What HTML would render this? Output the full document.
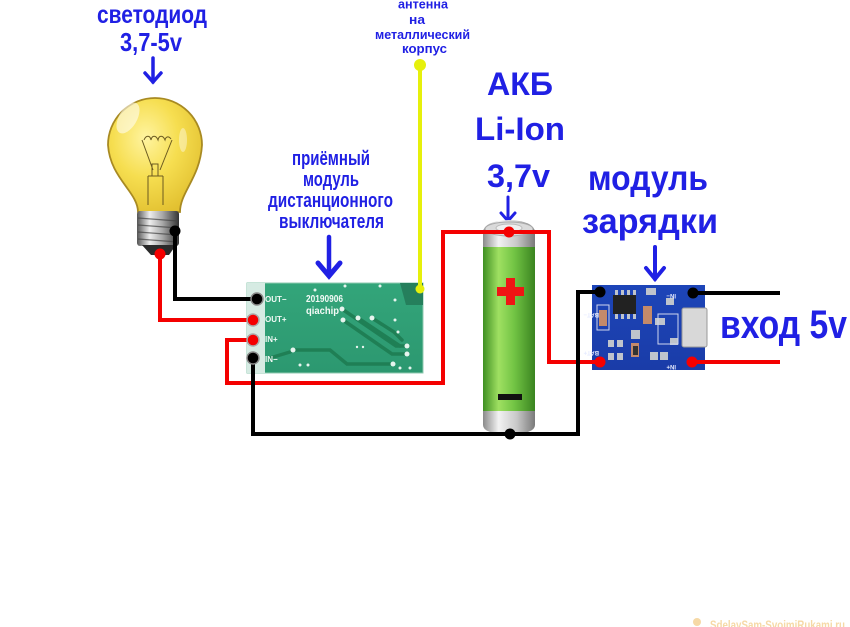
<!DOCTYPE html>
<html><head><meta charset="utf-8">
<style>
html,body{margin:0;padding:0;background:#fff;}
svg{display:block;}
text{font-family:"Liberation Sans","Noto Sans CJK SC",sans-serif;font-weight:bold;}
</style></head>
<body>
<svg width="850" height="627" viewBox="0 0 850 627" xmlns="http://www.w3.org/2000/svg">
<defs>
  <radialGradient id="glass" cx="0.4" cy="0.35" r="0.7">
    <stop offset="0" stop-color="#fff4a0"/>
    <stop offset="0.5" stop-color="#f6de50"/>
    <stop offset="1" stop-color="#e2c030"/>
  </radialGradient>
  <linearGradient id="screw" x1="0" y1="0" x2="1" y2="0">
    <stop offset="0" stop-color="#555"/>
    <stop offset="0.3" stop-color="#eee"/>
    <stop offset="0.6" stop-color="#aaa"/>
    <stop offset="1" stop-color="#333"/>
  </linearGradient>
  <linearGradient id="green" x1="0" y1="0" x2="1" y2="0">
    <stop offset="0" stop-color="#3f8f22"/>
    <stop offset="0.3" stop-color="#9fe062"/>
    <stop offset="0.6" stop-color="#72c444"/>
    <stop offset="1" stop-color="#3a8420"/>
  </linearGradient>
  <linearGradient id="silver" x1="0" y1="0" x2="1" y2="0">
    <stop offset="0" stop-color="#8a8a8a"/>
    <stop offset="0.3" stop-color="#f2f2f2"/>
    <stop offset="0.65" stop-color="#c8c8c8"/>
    <stop offset="1" stop-color="#7a7a7a"/>
  </linearGradient>
  <linearGradient id="pcbg" x1="0" y1="0" x2="0" y2="1">
    <stop offset="0" stop-color="#33a57a"/>
    <stop offset="1" stop-color="#2c9870"/>
  </linearGradient>
  <linearGradient id="pcbb" x1="0" y1="0" x2="0" y2="1">
    <stop offset="0" stop-color="#1d45b8"/>
    <stop offset="1" stop-color="#1a3ca8"/>
  </linearGradient>
</defs>

<!-- ===== Texts ===== -->
<g fill="#2020e4">
  <text x="97" y="23" font-size="25" textLength="110" lengthAdjust="spacingAndGlyphs">светодиод</text>
  <text x="120" y="51" font-size="26" textLength="62" lengthAdjust="spacingAndGlyphs">3,7-5v</text>

  <text x="398" y="8.5" font-size="13" textLength="50" lengthAdjust="spacingAndGlyphs">антенна</text>
  <text x="409" y="24" font-size="13" textLength="16" lengthAdjust="spacingAndGlyphs">на</text>
  <text x="375" y="39" font-size="13" textLength="95" lengthAdjust="spacingAndGlyphs">металлический</text>
  <text x="402" y="53" font-size="13" textLength="45" lengthAdjust="spacingAndGlyphs">корпус</text>

  <text x="292" y="165" font-size="20" textLength="78" lengthAdjust="spacingAndGlyphs">приёмный</text>
  <text x="303" y="186" font-size="20" textLength="56" lengthAdjust="spacingAndGlyphs">модуль</text>
  <text x="268" y="207" font-size="20" textLength="125" lengthAdjust="spacingAndGlyphs">дистанционного</text>
  <text x="279" y="228" font-size="20" textLength="105" lengthAdjust="spacingAndGlyphs">выключателя</text>

  <text x="487" y="95" font-size="32" textLength="66" lengthAdjust="spacingAndGlyphs">АКБ</text>
  <text x="475" y="140" font-size="32" textLength="90" lengthAdjust="spacingAndGlyphs">Li-Ion</text>
  <text x="487" y="187" font-size="32" textLength="63" lengthAdjust="spacingAndGlyphs">3,7v</text>

  <text x="588" y="190" font-size="35" textLength="120" lengthAdjust="spacingAndGlyphs">модуль</text>
  <text x="582" y="233" font-size="35" textLength="136" lengthAdjust="spacingAndGlyphs">зарядки</text>

  <text x="720" y="338" font-size="40" textLength="127" lengthAdjust="spacingAndGlyphs">вход 5v</text>
</g>

<!-- ===== Arrows ===== -->
<g stroke="#2020e4" fill="none" stroke-linecap="round" stroke-linejoin="miter">
  <path d="M153 58 V82" stroke-width="3.5"/>
  <path d="M145 73 L153 82 L161 73" stroke-width="3.5"/>
  <path d="M329 237 V276" stroke-width="4.5"/>
  <path d="M318 263 L329 276 L340 263" stroke-width="5"/>
  <path d="M508 197 V221" stroke-width="3"/>
  <path d="M501 213 L508 221 L515 213" stroke-width="3"/>
  <path d="M655 247 V279" stroke-width="4"/>
  <path d="M646 268 L655 279 L664 268" stroke-width="4"/>
</g>

<!-- ===== Lamp ===== -->
<g>
  <path d="M138 212 C138 192 110 178 108 145 A47 47 0 1 1 202 145 C200 178 180 192 180 212 Z" fill="url(#glass)" stroke="#a88a22" stroke-width="1.8"/>
  <ellipse cx="128" cy="118" rx="9" ry="17" transform="rotate(30 128 118)" fill="#fff" opacity="0.55"/>
  <ellipse cx="183" cy="140" rx="4" ry="12" fill="#fff" opacity="0.4"/>
  <!-- filament -->
  <g stroke="#6b5a20" stroke-width="1" fill="none">
    <path d="M144 140 c2-5 6-5 7 0 c1-5 5-5 7 0 c1-5 5-5 7 0 c1-4 4-4 6 -1"/>
    <path d="M142 140 L153 170"/>
    <path d="M172 140 L160 170"/>
    <rect x="152" y="164" width="6" height="12"/>
    <path d="M148 176 L148 205 M163 176 L163 205 M148 176 L163 176"/>
  </g>
  <!-- base -->
  <rect x="137" y="211" width="42" height="35" rx="3" fill="url(#screw)"/>
  <g stroke="#444" stroke-width="1.3" opacity="0.7">
    <path d="M138 218 L178 221"/>
    <path d="M138 225 L178 228"/>
    <path d="M138 232 L178 235"/>
    <path d="M138 239 L178 242"/>
  </g>
  <path d="M142 245 L151 255 L169 255 L176 245 Z" fill="#2a2a2a"/>
</g>

<!-- ===== Receiver module ===== -->
<g>
  <rect x="247" y="283" width="176" height="90" fill="url(#pcbg)" stroke="#8fcab0" stroke-width="1"/>
  <path d="M400 283 H423 V305 H406 Z" fill="#257f5c"/>
  <rect x="247" y="283" width="18" height="90" fill="#d6ebe3"/>
  <g stroke="#1f7f55" stroke-width="3.5" fill="none" stroke-linecap="round">
    <path d="M342 309 L396 346 L408 346"/>
    <path d="M343 320 L392 354 L407 354"/>
    <path d="M358 318 L400 346"/>
    <path d="M372 318 L394 332 L402 340"/>
    <path d="M293 350 L330 350 L347 364 L390 364"/>
    <path d="M270 358 L290 352"/>
  </g>
  <g fill="#e6f4ee">
    <circle cx="342" cy="309" r="2.5"/><circle cx="343" cy="320" r="2.5"/>
    <circle cx="358" cy="318" r="2.5"/><circle cx="372" cy="318" r="2.5"/>
    <circle cx="407" cy="346" r="2.5"/><circle cx="407" cy="354" r="2.5"/>
    <circle cx="393" cy="364" r="2.5"/><circle cx="293" cy="350" r="2.5"/>
    <circle cx="395" cy="300" r="1.5"/><circle cx="395" cy="320" r="1.5"/>
    <circle cx="398" cy="332" r="1.5"/><circle cx="380" cy="286" r="1.5"/>
    <circle cx="345" cy="286" r="1.5"/><circle cx="315" cy="290" r="1.5"/>
    <circle cx="300" cy="365" r="1.5"/><circle cx="308" cy="365" r="1.5"/>
    <circle cx="357" cy="347" r="1.2"/><circle cx="363" cy="347" r="1.2"/>
    <circle cx="400" cy="368" r="1.5"/><circle cx="410" cy="368" r="1.5"/>
  </g>
  <g fill="#f2faf6" font-size="10">
    <text x="306" y="302" textLength="37" lengthAdjust="spacingAndGlyphs">20190906</text>
    <text x="306" y="314" textLength="33" lengthAdjust="spacingAndGlyphs">qiachip</text>
  </g>
  <g fill="#f2faf6" font-size="8">
    <text x="265" y="302">OUT−</text>
    <text x="265" y="322">OUT+</text>
    <text x="265" y="342">IN+</text>
    <text x="265" y="362">IN−</text>
  </g>
</g>

<!-- ===== Charging module ===== -->
<g>
  <rect x="592" y="285" width="113" height="85" fill="url(#pcbb)"/>
  <rect x="613" y="295" width="23" height="19" fill="#222"/>
  <g fill="#bfc4cc">
    <rect x="615" y="290" width="3" height="5"/><rect x="621" y="290" width="3" height="5"/>
    <rect x="627" y="290" width="3" height="5"/><rect x="633" y="290" width="3" height="5"/>
    <rect x="615" y="314" width="3" height="5"/><rect x="621" y="314" width="3" height="5"/>
    <rect x="627" y="314" width="3" height="5"/><rect x="633" y="314" width="3" height="5"/>
    <rect x="682" y="308" width="25" height="39" rx="2" fill="#d8d8d8" stroke="#999"/>
    <rect x="646" y="288" width="10" height="7"/>
    <rect x="666" y="298" width="8" height="7"/>
    <rect x="670" y="338" width="8" height="7"/>
    <rect x="655" y="318" width="10" height="7"/>
    <rect x="650" y="352" width="8" height="8"/>
    <rect x="660" y="352" width="8" height="8"/>
  </g>
  <g fill="#c48a6a">
    <rect x="599" y="310" width="8" height="16"/>
    <rect x="643" y="306" width="9" height="18"/>
    <rect x="631" y="343" width="8" height="14"/>
  </g>
  <rect x="631" y="330" width="9" height="9" fill="#bfc4cc"/>
  <rect x="633" y="346" width="5" height="9" fill="#333"/>
  <g fill="#bfc4cc">
    <rect x="617" y="340" width="6" height="7"/><rect x="617" y="353" width="6" height="7"/>
    <rect x="608" y="340" width="6" height="7"/><rect x="608" y="353" width="6" height="7"/>
  </g>
  <g fill="none" stroke="#cfd6ee" stroke-width="1">
    <rect x="658" y="314" width="20" height="30"/>
    <rect x="597" y="305" width="12" height="25"/>
  </g>
  <g fill="#e6ebff" font-size="6">
    <text x="609" y="317" transform="rotate(180 604 315)">BAT−</text>
    <text x="609" y="355" transform="rotate(180 604 353)">BAT+</text>
    <text x="686" y="298" transform="rotate(180 681 296)">IN−</text>
    <text x="686" y="369" transform="rotate(180 681 367)">IN+</text>
  </g>
</g>

<!-- ===== Battery ===== -->
<g>
  <path d="M483 232 Q484 221 509 220 Q534 221 535 232 V250 H483 Z" fill="url(#silver)"/>
  <ellipse cx="509" cy="229" rx="24" ry="7" fill="#dadada" stroke="#aaa" stroke-width="1"/>
  <ellipse cx="509" cy="228" rx="13" ry="4" fill="#efefef" stroke="#bbb" stroke-width="1"/>
  <rect x="483" y="247" width="52" height="166" fill="url(#green)"/>
  <path d="M483 411 H535 V425 Q535 434 509 434 Q483 434 483 425 Z" fill="url(#silver)"/>
  <path d="M497 287 H524 V296 H497 Z M506 278 H515 V305 H506 Z" fill="#f01414"/>
  <rect x="498" y="394" width="24" height="6" fill="#111"/>
</g>

<!-- ===== Antenna ===== -->
<g>
  <path d="M420 65 V289" stroke="#e6f00c" stroke-width="4"/>
  <circle cx="420" cy="65" r="6" fill="#e6f00c"/>
  <circle cx="420" cy="289" r="4.5" fill="#e6f00c"/>
</g>

<!-- ===== Wires ===== -->
<g fill="none" stroke-width="4" stroke-linejoin="miter" stroke-linecap="square">
  <path d="M175 231 V299 H257" stroke="#000"/>
  <path d="M160 254 V320 H253" stroke="#f40000"/>
  <path d="M253 340 H227 V383 H443 V232 H549 V362 H600" stroke="#f40000"/>
  <path d="M253 358 V434 H578 V292 H600" stroke="#000"/>
  <path d="M693 293 H778" stroke="#000"/>
  <path d="M692 362 H778" stroke="#f40000"/>
</g>
<g>
  <circle cx="175" cy="231" r="5.5" fill="#000"/>
  <circle cx="160" cy="254" r="5.5" fill="#f40000"/>
  <circle cx="257" cy="299" r="6" fill="#000" stroke="#888" stroke-width="1.5"/>
  <circle cx="253" cy="320" r="6" fill="#f40000" stroke="#aaa" stroke-width="1.5"/>
  <circle cx="253" cy="340" r="6" fill="#f40000" stroke="#aaa" stroke-width="1.5"/>
  <circle cx="253" cy="358" r="6" fill="#000" stroke="#888" stroke-width="1.5"/>
  <circle cx="509" cy="232" r="5.5" fill="#f40000"/>
  <circle cx="510" cy="434" r="5.5" fill="#000"/>
  <circle cx="600" cy="292" r="5.5" fill="#000"/>
  <circle cx="600" cy="362" r="5.5" fill="#f40000"/>
  <circle cx="693" cy="293" r="5.5" fill="#000"/>
  <circle cx="692" cy="362" r="5.5" fill="#f40000"/>
</g>

<!-- ===== Watermark ===== -->
<g fill="#f6d9a6">
  <circle cx="697" cy="622" r="4"/>
  <text x="710" y="629" font-size="12" textLength="135" lengthAdjust="spacingAndGlyphs">SdelaySam-SvoimiRukami.ru</text>
</g>
</svg>
</body></html>
